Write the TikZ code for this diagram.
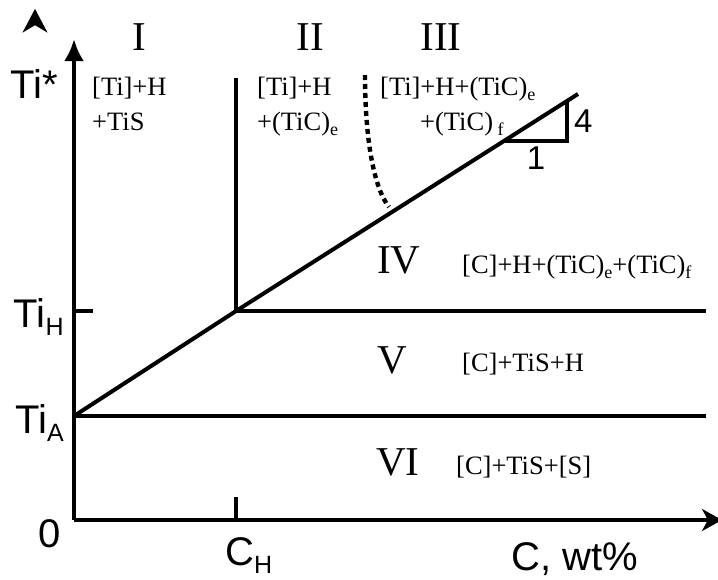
\documentclass[tikz,border=0pt]{standalone}
\usepackage{fontspec}
\setmainfont{Liberation Serif}
\setsansfont{Liberation Sans}
\usetikzlibrary{arrows.meta, positioning}
\newcommand{\lowH}[1]{\raisebox{-0.22em}{\fontsize{25}{25}\selectfont #1}}
\newcommand{\phs}[1]{\raisebox{-0.22em}{\fontsize{18}{18}\selectfont #1}}

\begin{document}
\begin{tikzpicture}[
    x=1pt, y=-1pt,
    axis/.style={line width=4.4pt},
    phase/.style={line width=4pt},
    border/.style={line width=4.4pt, dash pattern=on 5pt off 4pt},
    lbl/.style={font=\fontsize{40}{44}\sffamily, inner sep=0pt},
    smalllbl/.style={font=\fontsize{33}{36}\sffamily, inner sep=0pt},
    num/.style={font=\fontsize{41}{44}\selectfont, inner sep=0pt, anchor=base},
    mix/.style={font=\fontsize{26.5}{30}\selectfont, inner sep=0pt, anchor=base west}
]
\useasboundingbox (0,0) rectangle (718,579);

% ---------------- Ejes ----------------
\coordinate (O) at (74,520);
\coordinate (ytop) at (74,39);
\coordinate (xend) at (722,520);
\coordinate (tiA) at (74,416);
\coordinate (tiH) at (74,311);
\coordinate (tiHt) at (93,311);
\coordinate (cH) at (236,520);
\coordinate (cHt) at (236,497);

\draw[axis, -{Latex[length=22pt, width=20pt]}] (O) -- (ytop);
\draw[axis, -{Stealth[length=20pt, width=22pt, inset=6pt]}] (O) -- (xend);
\draw[axis] (tiH) -- (tiHt);
\draw[axis] (cH) -- (cHt);

\filldraw[line width=2pt, line join=miter] (35,11) -- (45,30) -- (35,24) -- (25,30) -- cycle;

\node[lbl] (tistar) at (34,84) {Ti*};
\node[lbl, anchor=base east] (tih) at (64,327) {Ti\lowH{H}};
\node[lbl, anchor=base east] (tia) at (64,433) {Ti\lowH{A}};
\node[lbl, anchor=base east] (zero) at (61,547) {0};
\node[lbl, anchor=base west] (ch) at (225,565) {C\lowH{H}};
\node[lbl, anchor=base west] (cwt) at (511,570) {C, wt\%};

% ---------------- Fronteras ----------------
\coordinate (H) at (236,311);
\coordinate (vtop) at (236,78);
\coordinate (top) at (578,94);
\coordinate (hend) at (706,311);
\coordinate (aend) at (706,416);
\coordinate (d1) at (365,75);
\coordinate (d2) at (389,207);

\draw[phase] (tiA) -- (H) -- (top);
\draw[phase] (H) -- (vtop);
\draw[phase] (H) -- (hend);
\draw[phase] (tiA) -- (aend);
\draw[border] (d1) .. controls (365,140) and (374,188) .. (d2);

% pendiente
\coordinate (t1) at (505,141);
\coordinate (t2) at (567,141);
\coordinate (t3) at (567,101);
\draw[phase] (t1) -- (t2) -- (t3);
\node[smalllbl, anchor=west] (four) at (574,121) {4};
\node[smalllbl, below=6pt of t1, xshift=31pt] (one) {1};

% ---------------- Zonas ----------------
\node[num] (z1) at (139,50) {I};
\node[num] (z2) at (310,50) {II};
\node[num] (z3) at (441,50) {III};
\node[num, anchor=base west] (z4) at (377,273) {IV};
\node[num, anchor=base west] (z5) at (377,373) {V};
\node[num, anchor=base west] (z6) at (376,475) {VI};

\node[mix] (f1a) at (92,95) {[Ti]+H};
\node[mix] (f1b) at (92,130) {+TiS};
\node[mix] (f2a) at (257,95) {[Ti]+H};
\node[mix] (f2b) at (257,130) {+(TiC)\phs{e}};
\node[mix] (f3a) at (380,95) {[Ti]+H+(TiC)\phs{e}};
\node[mix] (f3b) at (420,130) {+(TiC)\,\phs{f}};
\node[mix] (f4) at (462,273) {[C]+H+(TiC)\phs{e}+(TiC)\phs{f}};
\node[mix] (f5) at (462,371) {[C]+TiS+H};
\node[mix] (f6) at (456,474) {[C]+TiS+[S]};

\end{tikzpicture}
\end{document}
